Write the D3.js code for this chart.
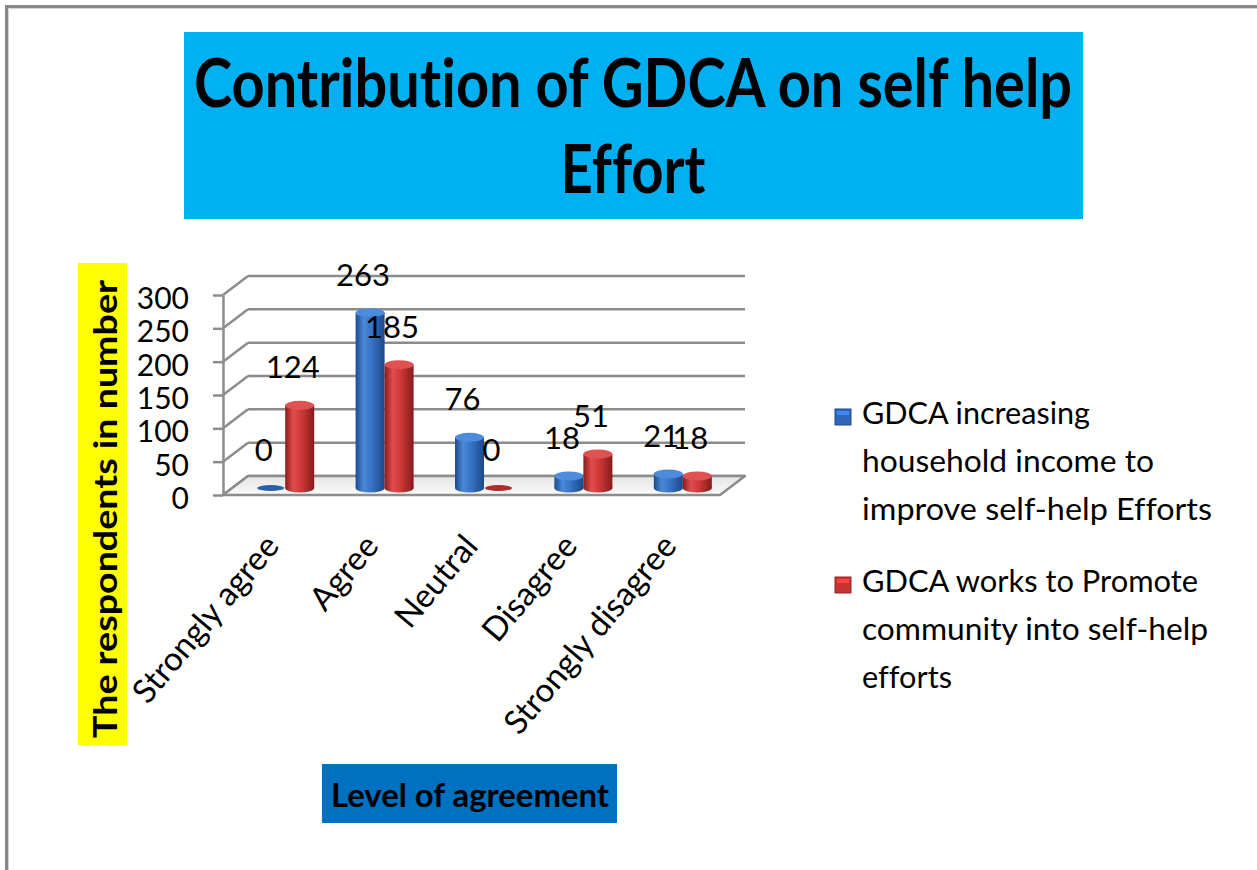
<!DOCTYPE html>
<html>
<head>
<meta charset="utf-8">
<script src="https://cdn.jsdelivr.net/npm/d3@7"></script>
<style>
  body { margin: 0; background: #fff; }
  svg text { font-family: Lato, "Open Sans", sans-serif; font-variant-ligatures: none; }
</style>
</head>
<body>
<div id="chart"></div>
<script>
// chart values
const categories = ["Strongly agree", "Agree", "Neutral", "Disagree", "Strongly disagree"]
const incomeValues = [0, 263, 76, 18, 21]
const promoteValues = [124, 185, 0, 51, 18]
const yTicks = [0, 50, 100, 150, 200, 250, 300]
const titleLines = ["Contribution of GDCA on self help", "Effort"]
const yTitle = "The respondents in number"
const xTitle = "Level of agreement"
const legendLines = [
    ["GDCA increasing", "household income to", "improve  self-help Efforts"],
    ["GDCA works to Promote", "community into self-help", "efforts"]
]

const width = 1257, height = 870
const depth = {dx: 25, dy: -19}

let svg = d3.select("#chart")
            .append('svg')
            .attr('width', width)
            .attr('height', height)

// frame
svg.append('rect').attr('x', 5).attr('y', 5).attr('width', width - 5).attr('height', 3).attr('fill', '#888')
svg.append('rect').attr('x', 5).attr('y', 5).attr('width', 3).attr('height', height - 5).attr('fill', '#888')
svg.append('rect').attr('x', 8).attr('y', 8).attr('width', width - 8).attr('height', 1).attr('fill', '#d4d4d4')
svg.append('rect').attr('x', 8).attr('y', 8).attr('width', 1).attr('height', height - 8).attr('fill', '#d4d4d4')

// gradients
let defs = svg.append('defs')
function hGrad(id, stops) {
    let g = defs.append('linearGradient').attr('id', id)
                .attr('x1', '0%').attr('x2', '100%').attr('y1', '0%').attr('y2', '0%')
    stops.forEach(function(s) {
        g.append('stop').attr('offset', s[0]).attr('stop-color', s[1])
    })
}
hGrad('blueBody', [['0%', '#1d4a8c'], ['28%', '#4a88d8'], ['55%', '#3773c6'], ['100%', '#1c4888']])
hGrad('redBody', [['0%', '#8a1c1c'], ['28%', '#e24c4c'], ['55%', '#d03838'], ['100%', '#861b1b']])
let fg = defs.append('linearGradient').attr('id', 'floorGrad')
             .attr('x1', '0%').attr('x2', '0%').attr('y1', '0%').attr('y2', '100%')
fg.append('stop').attr('offset', '0%').attr('stop-color', '#e4e4e4')
fg.append('stop').attr('offset', '100%').attr('stop-color', '#fbfbfb')

const series = [
    {values: incomeValues, body: 'url(#blueBody)', top: '#4d8cdc', flat: '#2a5fae', side: -1, legend: '#2f66b8'},
    {values: promoteValues, body: 'url(#redBody)', top: '#e05252', flat: '#b22a2a', side: 1, legend: '#c73232'}
]

// title
svg.append('rect').attr('x', 184).attr('y', 32).attr('width', 899).attr('height', 187).attr('fill', '#00b0f0')
svg.selectAll('.title')
   .data(titleLines)
   .enter()
   .append('text')
   .attr('class', 'title')
   .attr('x', 633)
   .attr('y', function(d, i) { return i == 0 ? 107 : 193 })
   .attr('text-anchor', 'middle')
   .attr('font-size', 66)
   .attr('font-weight', 'bold')
   .attr('textLength', function(d, i) { return i == 0 ? 878 : 145 })
   .attr('lengthAdjust', 'spacingAndGlyphs')
   .text(function(d) { return d })

// scales
let x = d3.scaleBand().domain(categories).range([223, 720])
let y = d3.scaleLinear().domain([0, 300]).range([495, 295])

// back wall gridlines
svg.selectAll('.grid')
   .data(yTicks)
   .enter()
   .append('line')
   .attr('class', 'grid')
   .attr('x1', 223 + depth.dx)
   .attr('x2', 720 + depth.dx)
   .attr('y1', function(d) { return y(d) + depth.dy })
   .attr('y2', function(d) { return y(d) + depth.dy })
   .attr('stroke', '#8c8c8c')
   .attr('stroke-width', 2.5)

// left wall lines
svg.selectAll('.wall')
   .data(yTicks)
   .enter()
   .append('line')
   .attr('class', 'wall')
   .attr('x1', 223)
   .attr('x2', 223 + depth.dx)
   .attr('y1', function(d) { return y(d) })
   .attr('y2', function(d) { return y(d) + depth.dy })
   .attr('stroke', '#8c8c8c')
   .attr('stroke-width', 2.5)

// floor
let fl = [[x.range()[0], y(0)], [x.range()[1], y(0)],
          [x.range()[1] + depth.dx, y(0) + depth.dy], [x.range()[0] + depth.dx, y(0) + depth.dy]]
svg.append('polygon')
   .attr('points', fl.map(function(p) { return p.join(',') }).join(' '))
   .attr('fill', 'url(#floorGrad)')
   .attr('stroke', '#8c8c8c')
   .attr('stroke-width', 2.5)
   .attr('stroke-linejoin', 'round')

// y axis
let yAxis = svg.append('g')
               .attr('transform', "translate(223,0)")
               .call(d3.axisLeft(y).tickValues(yTicks).tickSize(10).tickSizeOuter(0).tickPadding(24))
yAxis.select('.domain').attr('stroke', '#8c8c8c').attr('stroke-width', 2.5)
yAxis.selectAll('.tick line').attr('stroke', '#8c8c8c').attr('stroke-width', 2.5)
yAxis.selectAll('.tick text')
     .attr('font-size', 30)
     .attr('font-family', 'Lato, sans-serif')
     .attr('fill', '#000')
     .attr('dy', '0.45em')

// cylinders
const rx = 14.5, ry = 4.5
function barX(i, s) { return x(categories[i]) + x.bandwidth() / 2 + 12.5 + s.side * 14.5 }
function barBase() { return y(0) - 7 }
function barTop(v) { return y(v) - 7 }

categories.forEach(function(c, i) {
    series.forEach(function(s) {
        let v = s.values[i]
        let cx = barX(i, s)
        let g = svg.append('g')
        if (v == 0) {
            g.append('ellipse').attr('cx', cx).attr('cy', barBase())
             .attr('rx', rx - 1).attr('ry', 3).attr('fill', s.flat)
            return
        }
        g.append('ellipse').attr('cx', cx).attr('cy', barBase()).attr('rx', rx).attr('ry', ry).attr('fill', s.body)
        g.append('rect').attr('x', cx - rx).attr('y', barTop(v)).attr('width', 2 * rx)
         .attr('height', barBase() - barTop(v)).attr('fill', s.body)
        g.append('ellipse').attr('cx', cx).attr('cy', barTop(v)).attr('rx', rx).attr('ry', ry).attr('fill', s.top)
    })
})

// data labels
categories.forEach(function(c, i) {
    series.forEach(function(s) {
        svg.append('text')
           .attr('x', barX(i, s) - 7)
           .attr('y', barTop(s.values[i]) - 27)
           .attr('text-anchor', 'middle')
           .attr('font-size', 31)
           .text(s.values[i])
    })
})

// category labels
svg.selectAll('.cat')
   .data(categories)
   .enter()
   .append('text')
   .attr('class', 'cat')
   .attr('transform', function(d) {
       return "translate(" + (x(d) + x.bandwidth() / 2 + 8) + ",547)rotate(-50)"
   })
   .attr('text-anchor', 'end')
   .attr('font-size', 33)
   .text(function(d) { return d })

// y title
svg.append('rect').attr('x', 78).attr('y', 263).attr('width', 49).attr('height', 482).attr('fill', '#ffff00')
svg.append('text')
   .attr('transform', "translate(117,509)rotate(-90)")
   .attr('text-anchor', 'middle')
   .attr('font-size', 33)
   .attr('font-weight', 'bold')
   .attr('textLength', 458)
   .attr('lengthAdjust', 'spacingAndGlyphs')
   .text(yTitle)

// x title
svg.append('rect').attr('x', 322).attr('y', 764).attr('width', 295).attr('height', 59).attr('fill', '#0070c0')
svg.append('text')
   .attr('x', 470)
   .attr('y', 807)
   .attr('text-anchor', 'middle')
   .attr('font-size', 33)
   .attr('font-weight', 'bold')
   .attr('textLength', 278)
   .attr('lengthAdjust', 'spacingAndGlyphs')
   .text(xTitle)

// legend
const legendTop = [409, 577]
const legendLens = [[228, 292, 350], [336, 346, 90]]
series.forEach(function(s, k) {
    svg.append('rect').attr('x', 835).attr('y', legendTop[k]).attr('width', 16).attr('height', 16)
       .attr('fill', s.legend).attr('stroke', d3.color(s.legend).darker(0.8)).attr('stroke-width', 1)
    svg.append('rect').attr('x', 837).attr('y', legendTop[k] + 2).attr('width', 12).attr('height', 4)
       .attr('fill', d3.color(s.legend).brighter(0.8))
    legendLines[k].forEach(function(line, j) {
        svg.append('text')
           .attr('x', 862)
           .attr('y', legendTop[k] + 15 + j * 48)
           .attr('font-size', 31)
           .attr('textLength', legendLens[k][j])
           .attr('lengthAdjust', 'spacingAndGlyphs')
           .text(line)
    })
})
</script>
</body>
</html>
